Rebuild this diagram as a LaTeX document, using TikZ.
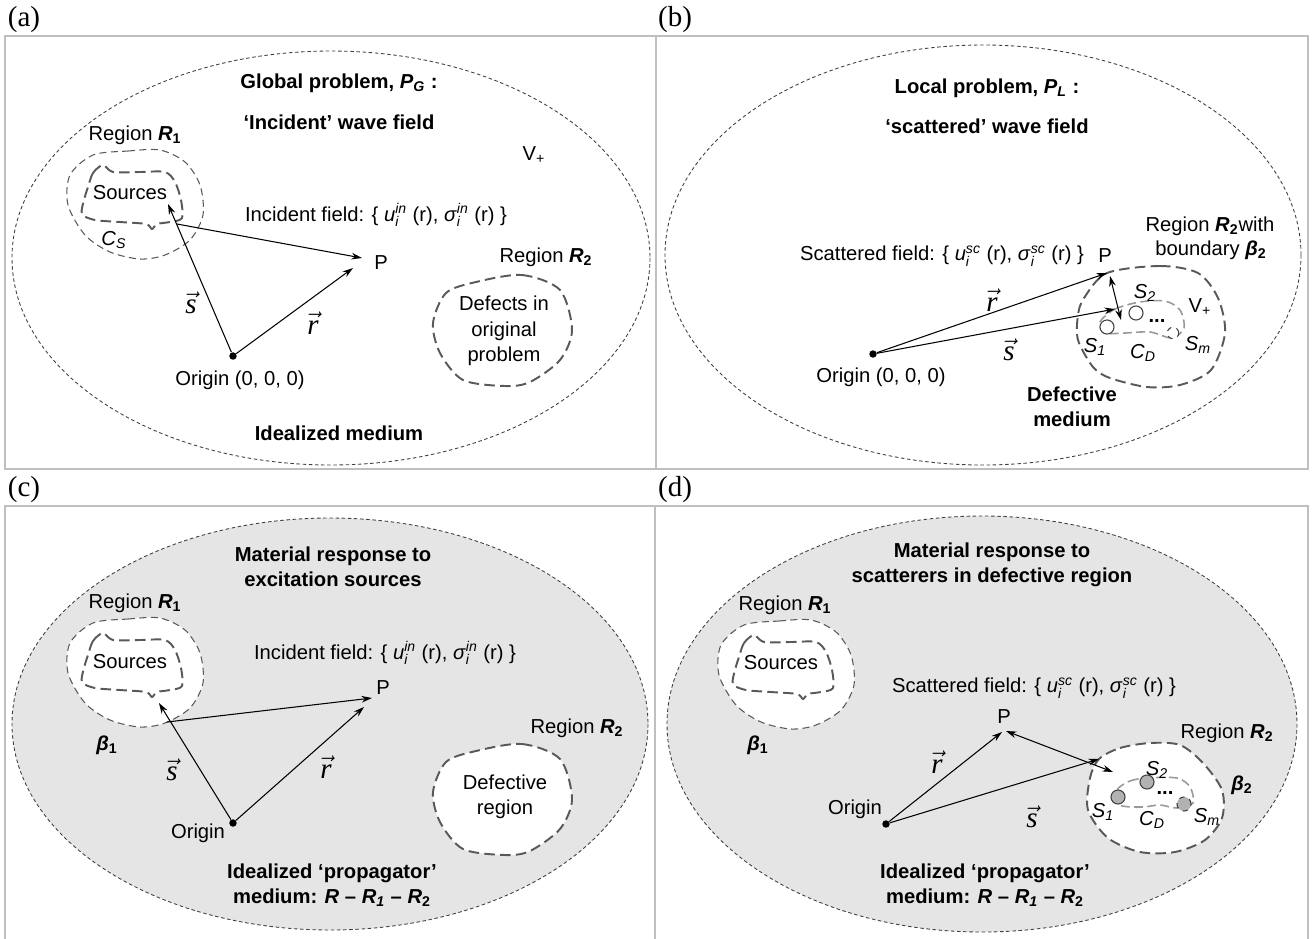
\documentclass[tikz,border=0pt]{standalone}
\usepackage{fontspec}
\setmainfont{Liberation Sans}
\newfontfamily\tmsfont{Liberation Serif}
\usetikzlibrary{arrows.meta}

\tikzset{
  frame/.style={draw=black!25, line width=0.6pt},
  medium/.style={draw=black!75, line width=0.5pt, dash pattern=on 2pt off 1.5pt},
  regline/.style={draw=black!65, line width=0.6pt, dash pattern=on 4pt off 2.5pt},
  srcline/.style={draw=black!65, line width=1.1pt, dash pattern=on 6pt off 3pt},
  defline/.style={draw=black!65, line width=1.1pt, dash pattern=on 6pt off 3pt},
  cdline/.style={draw=black!40, line width=0.9pt, dash pattern=on 5pt off 2.5pt},
  vecline/.style={-{Stealth[length=6pt,width=3.8pt]}, line width=0.6pt},
  dblline/.style={{Stealth[length=6pt,width=3.8pt]}-{Stealth[length=6pt,width=3.8pt]}, line width=0.6pt},
  dot/.style={circle, fill, inner sep=1.5pt},
  txt/.style={font=\fontsize{11.5}{14.5}\selectfont, inner sep=1pt, align=center},
  ttl/.style={font=\fontsize{11.5}{14.2}\selectfont\bfseries, inner sep=1pt, align=center},
  panel/.style={font=\fontsize{16.5}{18}\tmsfont, inner sep=0pt},
  veclbl/.style={font=\fontsize{16.5}{18}\selectfont, inner sep=0pt},
  scat/.style={circle, draw=black!75, line width=0.6pt, minimum size=8pt, inner sep=0pt}
}

% u_i^in etc.
\newcommand{\subsup}[2]{$_{\mbox{\fontsize{8}{9}\selectfont\itshape #1}}^{\mbox{\fontsize{8}{9}\selectfont\itshape #2}}$}
\newcommand{\vecsym}[1]{$\vec{\hbox{\tmsfont\itshape #1}}$}

% region R1 with the sources inside
\newcommand{\srcregion}[2]{%
  \begin{scope}[shift={#1}]
    \draw[regline, fill=#2] plot[smooth cycle] coordinates {(93,155) (128,151) (160,150) (185,162) (200,185) (203,215) (190,240) (165,255) (140,259) (110,252) (85,235) (68,205) (70,175)};
    \draw[srcline] plot[smooth cycle] coordinates {(88,187) (93,173) (103,165) (113,172) (140,172) (165,172) (175,182) (181,200) (182,218) (170,222) (157,224) (152,229) (146,224) (120,222) (95,220) (82,214) (84,200)};
  \end{scope}}

% region R2 (defects)
\newcommand{\defregion}[2]{%
  \begin{scope}[shift={#1}]
    \draw[defline, fill=#2] plot[smooth cycle] coordinates {(476,282) (522,275) (560,290) (572,330) (560,360) (530,382) (505,386) (463,380) (440,353) (433,323) (446,293)};
  \end{scope}}

\begin{document}
\begin{tikzpicture}[x=0.02cm, y=-0.02cm]
\useasboundingbox (0,0) rectangle (1313,938);

% frames
\draw[frame] (5,36) rectangle (656,469);
\draw[frame] (656,36) rectangle (1308,469);
\draw[frame] (5,940) -- (5,506) -- (655,506) -- (655,940);
\draw[frame] (655,506) -- (1308,506) -- (1308,940);

%%%%% (a)
\node[panel] (labA) at (24,20) {(a)};
\draw[medium] (331,258) ellipse [x radius=319, y radius=207];
\srcregion{(0,0)}{white}
\defregion{(0,0)}{white}
\node[ttl] (ttlA) at (339,83) {Global problem, \textit{P}\textsubscript{\textit{G}} :};
\node[ttl] (subA) at (339,122) {‘Incident’ wave field};
\node[txt] (regOneA) at (135,135) {Region \textbf{\textit{R}\textsubscript{1}}};
\node[txt] (vA) at (534,155) {V\textsubscript{+}};
\node[txt] (srcA) at (130,193) {Sources};
\node[txt] (csA) at (114,240) {\textit{C}\textsubscript{\textit{S}}};
\node[txt] (incA) at (376,215) {Incident field: \{ \textit{u}\subsup{i}{in} (r), \textit{σ}\subsup{i}{in} (r) \}};
\node[txt] (pA) at (381,263) {P};
\node[dot] (oA) at (233,356) {};
\node[txt] (oLabA) at (240,380) {Origin (0, 0, 0)};
\node[veclbl] (sA) at (191,303) {\vecsym{s}};
\node[veclbl] (rA) at (313,323) {\vecsym{r}};
\node[txt] (regTwoA) at (546,257) {Region \textbf{\textit{R}\textsubscript{2}}};
\node[txt] (defA) at (504,331) {Defects in\\original\\problem};
\node[ttl] (medA) at (339,433) {Idealized medium};
\coordinate (jA) at (177,224);
\coordinate (tsA) at (168,204);
\coordinate (tpA) at (362,258);
\coordinate (trA) at (353,268);
\draw[vecline] (oA) -- (tsA);
\draw[vecline] (jA) -- (tpA);
\draw[vecline] (oA) -- (trA);

%%%%% (b)
\node[panel] (labB) at (675,20) {(b)};
\draw[medium] (983,255) ellipse [x radius=318, y radius=210];
\draw[defline] plot[smooth cycle] coordinates {(1107,273) (1160,266) (1198,273) (1218,298) (1225,333) (1211,370) (1180,385) (1147,387) (1110,378) (1093,367) (1078,340) (1078,315) (1084,298)};
\draw[cdline] plot[smooth cycle] coordinates {(1100,322) (1115,309) (1140,302) (1165,301) (1180,310) (1184,328) (1172,338) (1150,332) (1125,333) (1105,333)};
\node[scat, fill=white] (sOneB) at (1107,327) {};
\node[scat, fill=white] (sTwoB) at (1136,313) {};
\node[scat, fill=white, dashed, minimum size=6.5pt] (smB) at (1173,333) {};
\node[ttl] (ttlB) at (987,88) {Local problem, \textit{P}\textsubscript{\textit{L}} :};
\node[ttl] (subB) at (987,126) {‘scattered’ wave field};
\node[txt] (regTwoB) at (1210,226) {Region \textbf{\textit{R}\textsubscript{2}}with};
\node[txt] (bndB) at (1211,250) {boundary \textbf{\textit{β}\textsubscript{2}}};
\node[txt] (scB) at (942,256) {Scattered field: \{ \textit{u}\subsup{i}{sc} (r), \textit{σ}\subsup{i}{sc} (r) \}};
\node[txt] (pB) at (1105,256) {P};
\node[dot] (oB) at (873,354) {};
\node[txt] (oLabB) at (881,377) {Origin (0, 0, 0)};
\node[veclbl] (rB) at (992,300) {\vecsym{r}};
\node[veclbl] (sB) at (1009,350) {\vecsym{s}};
\node[txt] (vB) at (1200,307) {V\textsubscript{+}};
\node[txt] (sOneLabB) at (1095,347) {\textit{S}\textsubscript{\textit{1}}};
\node[txt] (sTwoLabB) at (1145,293) {\textit{S}\textsubscript{\textit{2}}};
\node[txt] (smLabB) at (1198,345) {\textit{S}\textsubscript{\textit{m}}};
\node[txt] (cdB) at (1143,353) {\textit{C}\textsubscript{\textit{D}}};
\node[txt] (dotsB) at (1157,321) {\textbf{...}};
\node[ttl] (medB) at (1072,407) {Defective\\medium};
\coordinate (trB) at (1107,273);
\coordinate (tsB) at (1115,309);
\coordinate (dTopB) at (1110,276);
\coordinate (dBotB) at (1121,320);
\draw[vecline] (oB) -- (trB);
\draw[vecline] (oB) -- (tsB);
\draw[dblline] (dTopB) -- (dBotB);

%%%%% (c)
\node[panel] (labC) at (24,490) {(c)};
\draw[medium, fill=black!10] (330,724) ellipse [x radius=318, y radius=206];
\srcregion{(0,468)}{white}
\defregion{(0,469)}{white}
\node[ttl] (ttlC) at (333,567) {Material response to\\excitation sources};
\node[txt] (regOneC) at (135,603) {Region \textbf{\textit{R}\textsubscript{1}}};
\node[txt] (srcC) at (130,662) {Sources};
\node[txt] (betaC) at (107,745) {\textbf{\textit{β}\textsubscript{1}}};
\node[txt] (incC) at (385,653) {Incident field: \{ \textit{u}\subsup{i}{in} (r), \textit{σ}\subsup{i}{in} (r) \}};
\node[txt] (pC) at (383,688) {P};
\node[dot] (oC) at (233,823) {};
\node[txt] (oLabC) at (198,833) {Origin};
\node[veclbl] (sC) at (172,770) {\vecsym{s}};
\node[veclbl] (rC) at (326,767) {\vecsym{r}};
\node[txt] (regTwoC) at (577,728) {Region \textbf{\textit{R}\textsubscript{2}}};
\node[txt] (defC) at (505,797) {Defective\\region};
\node[ttl] (medC) at (332,885) {Idealized ‘propagator’\\medium: \textit{R} – \textit{R}\textsubscript{\textit{1}} – \textit{R}\textsubscript{2}};
\coordinate (jC) at (167,722);
\coordinate (tsC) at (159,703);
\coordinate (tpC) at (372,698);
\coordinate (trC) at (364,707);
\draw[vecline] (oC) -- (tsC);
\draw[vecline] (jC) -- (tpC);
\draw[vecline] (oC) -- (trC);

%%%%% (d)
\node[panel] (labD) at (675,490) {(d)};
\draw[medium, fill=black!10] (982,724) ellipse [x radius=315, y radius=208];
\srcregion{(651,470)}{white}
\draw[defline, fill=white] plot[smooth cycle] coordinates {(1099,759) (1120,748) (1150,743) (1180,745) (1203,763) (1222,790) (1222,818) (1205,840) (1175,852) (1140,852) (1108,838) (1088,810) (1090,778)};
\draw[cdline] plot[smooth cycle] coordinates {(1117,790) (1130,781) (1147,778) (1177,778) (1190,787) (1193,803) (1177,808) (1160,805) (1142,807) (1120,805)};
\node[scat, fill=black!30] (sOneD) at (1118,797) {};
\node[scat, fill=black!30] (sTwoD) at (1147,782) {};
\node[scat, fill=black!30, dashed] (smD) at (1184,804) {};
\node[ttl] (ttlD) at (992,565) {Material response to\\scatterers in defective region};
\node[txt] (regOneD) at (785,605) {Region \textbf{\textit{R}\textsubscript{1}}};
\node[txt] (srcD) at (781,663) {Sources};
\node[txt] (betaD) at (758,745) {\textbf{\textit{β}\textsubscript{1}}};
\node[txt] (scD) at (1034,688) {Scattered field: \{ \textit{u}\subsup{i}{sc} (r), \textit{σ}\subsup{i}{sc} (r) \}};
\node[txt] (pD) at (1004,717) {P};
\node[dot] (oD) at (886,824) {};
\node[txt] (oLabD) at (855,809) {Origin};
\node[veclbl] (rD) at (937,762) {\vecsym{r}};
\node[veclbl] (sD) at (1032,817) {\vecsym{s}};
\node[txt] (regTwoD) at (1227,733) {Region \textbf{\textit{R}\textsubscript{2}}};
\node[txt] (betaTwoD) at (1242,785) {\textbf{\textit{β}\textsubscript{2}}};
\node[txt] (sOneLabD) at (1103,812) {\textit{S}\textsubscript{\textit{1}}};
\node[txt] (sTwoLabD) at (1157,770) {\textit{S}\textsubscript{\textit{2}}};
\node[txt] (smLabD) at (1207,817) {\textit{S}\textsubscript{\textit{m}}};
\node[txt] (cdD) at (1152,820) {\textit{C}\textsubscript{\textit{D}}};
\node[txt] (dotsD) at (1165,793) {\textbf{...}};
\node[ttl] (medD) at (985,885) {Idealized ‘propagator’\\medium: \textit{R} – \textit{R}\textsubscript{\textit{1}} – \textit{R}\textsubscript{2}};
\coordinate (trD) at (1002,732);
\coordinate (dTopD) at (1006,731);
\coordinate (dBotD) at (1113,772);
\coordinate (jD) at (1099,759);
\draw[vecline] (oD) -- (trD);
\draw[vecline] (oD) -- (jD);
\draw[dblline] (dTopD) -- (dBotD);

\end{tikzpicture}
\end{document}
